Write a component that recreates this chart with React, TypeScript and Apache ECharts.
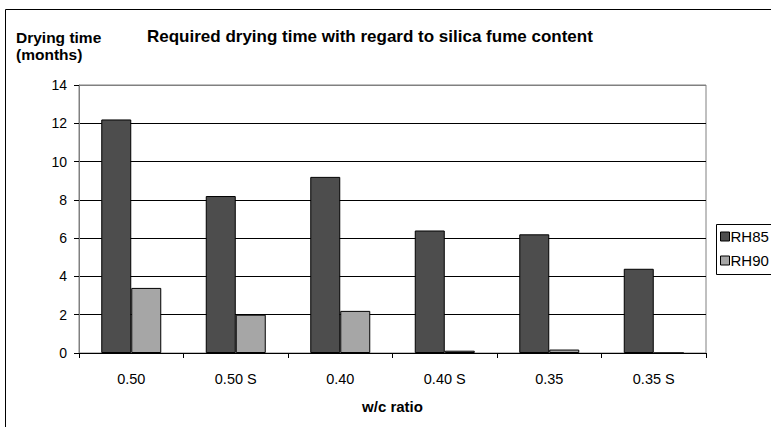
import React, { useEffect, useRef } from "react";
import * as echarts from "echarts";

const categories = ["0.50", "0.50 S", "0.40", "0.40 S", "0.35", "0.35 S"];
const rh85 = [12.2, 8.2, 9.2, 6.4, 6.2, 4.4];
const rh90 = [3.4, 2.0, 2.2, 0.12, 0.18, 0];
const seriesNames = ["RH85", "RH90"];
const titleText = "Required drying time with regard to silica fume content";
const yAxisTitle = ["Drying time", "(months)"];
const xAxisTitle = "w/c ratio";

const FONT = "'Liberation Sans', Arial, sans-serif";

export default function App() {
  const ref = useRef<HTMLDivElement>(null);
  useEffect(() => {
    document.body.style.margin = "0";
    const chart = echarts.init(ref.current!, undefined, { renderer: "svg" });
    chart.setOption({
      animation: false,
      backgroundColor: "#fff",
      textStyle: { fontFamily: FONT },
      title: {
        text: titleText,
        left: 147,
        top: 28,
        padding: 0,
        textStyle: { fontFamily: FONT, fontSize: 17, fontWeight: "bold", color: "#000" },
      },
      grid: {
        left: 79,
        right: 65,
        top: 85,
        bottom: 74,
        show: true,
        borderColor: "#808080",
        borderWidth: 1,
        backgroundColor: "#fff",
      },
      legend: {
        orient: "vertical",
        left: 720,
        top: 229,
        itemWidth: 9,
        itemHeight: 9,
        itemGap: 9,
        itemStyle: { borderColor: "#000", borderWidth: 1 },
        padding: 0,
        icon: "rect",
        textStyle: { fontFamily: FONT, fontSize: 15, color: "#000", padding: [0, 0, 0, -4] },
        data: seriesNames,
      },
      xAxis: {
        type: "category",
        data: categories,
        name: xAxisTitle,
        nameLocation: "middle",
        nameGap: 46,
        nameTextStyle: { fontFamily: FONT, fontSize: 15, fontWeight: "bold", color: "#000" },
        axisLine: { lineStyle: { color: "#000", width: 1 } },
        axisTick: { show: true, length: 5, lineStyle: { color: "#000" } },
        axisLabel: { fontFamily: FONT, fontSize: 14.5, color: "#000", margin: 18 },
      },
      yAxis: {
        type: "value",
        min: 0,
        max: 14,
        interval: 2,
        axisLine: { show: true, lineStyle: { color: "#808080", width: 1 } },
        axisTick: { show: true, length: 5, lineStyle: { color: "#000" } },
        axisLabel: { fontFamily: FONT, fontSize: 14, color: "#000", margin: 12 },
        splitLine: {
          show: true,
          lineStyle: {
            color: ["#000", "#000", "#000", "#000", "#000", "#000", "#000", "#808080"],
            width: 1,
          },
        },
      },
      series: [
        {
          name: seriesNames[0],
          type: "bar",
          data: rh85,
          barWidth: 30,
          barGap: "0%",
          itemStyle: { color: "#4d4d4d", borderColor: "#000", borderWidth: 1 },
        },
        {
          name: seriesNames[1],
          type: "bar",
          data: rh90,
          barWidth: 30,
          barGap: "0%",
          itemStyle: { color: "#a6a6a6", borderColor: "#000", borderWidth: 1 },
        },
      ],
      graphic: [
        {
          type: "rect",
          z: -10,
          shape: { x: 5.5, y: 9.5, width: 800, height: 500 },
          style: { fill: "none", stroke: "#000", lineWidth: 1 },
          silent: true,
        },
        {
          type: "rect",
          z: -5,
          shape: { x: 716.5, y: 224.5, width: 80, height: 50 },
          style: { fill: "#fff", stroke: "#000", lineWidth: 1 },
          silent: true,
        },
        {
          type: "text",
          left: 16,
          top: 29,
          style: {
            text: yAxisTitle.join("\n"),
            fontFamily: FONT,
            fontSize: 15.5,
            fontWeight: "bold",
            lineHeight: 17,
            fill: "#000",
          },
        },
      ],
    });
    return () => chart.dispose();
  }, []);
  return (
    <div
      ref={ref}
      style={{ position: "fixed", left: 0, top: 0, width: 771, height: 427 }}
    />
  );
}
